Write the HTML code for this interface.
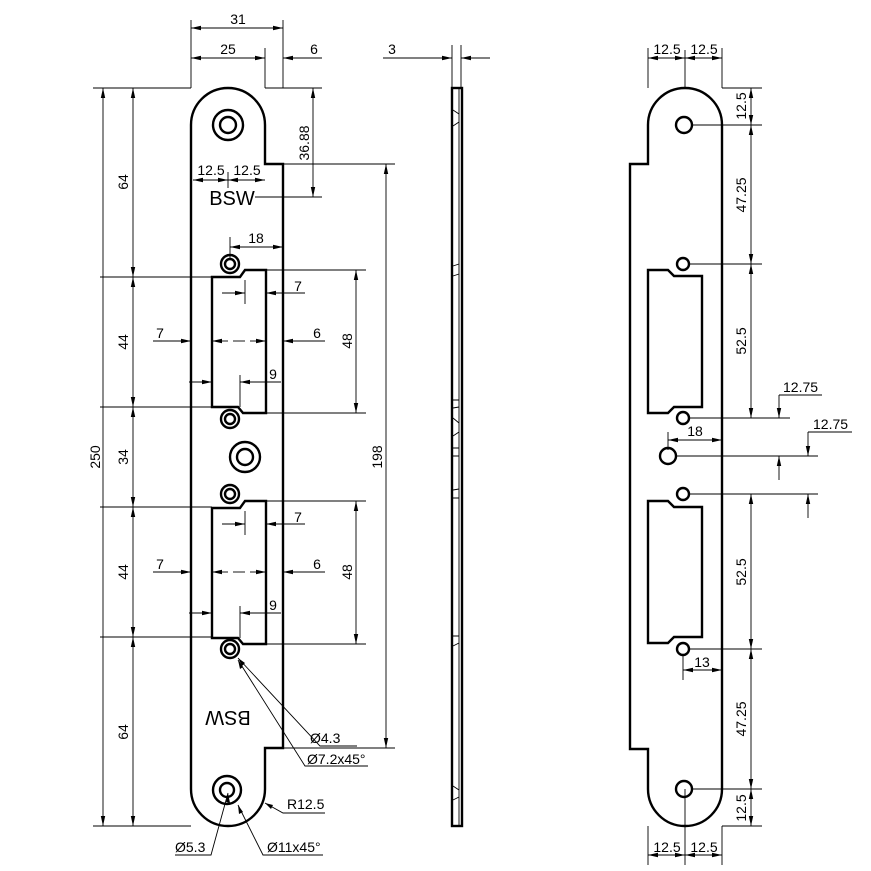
<!DOCTYPE html>
<html><head><meta charset="utf-8"><style>
html,body{margin:0;padding:0;background:#fff}
svg{display:block}
text{font-family:"Liberation Sans",sans-serif;font-size:14px;fill:#000}
.o{fill:none;stroke:#000;stroke-width:2.4}
.d{fill:none;stroke:#000;stroke-width:0.9}
.da{fill:none;stroke:#000;stroke-width:0.9;marker-end:url(#a)}
.db{fill:none;stroke:#000;stroke-width:0.9;marker-start:url(#a);marker-end:url(#a)}
</style></head><body>
<svg width="871" height="871" viewBox="0 0 871 871" xmlns="http://www.w3.org/2000/svg">
<defs><marker id="a" markerWidth="10" markerHeight="6" refX="10" refY="3" orient="auto-start-reverse" markerUnits="userSpaceOnUse"><path d="M0,0.8 L10,3 L0,5.2 z" fill="#000"/></marker></defs>

<!-- LEFT VIEW -->
<path class="o" d="M191,789 L191,125 A37,37 0 0 1 265,125 L265,164 L283,164 L283,748 L265,748 L265,789 A37,37 0 0 1 191,789 Z"/>
<circle class="o" cx="228" cy="125" r="15"/><circle class="o" cx="228" cy="125" r="8"/>
<circle class="o" cx="227" cy="790" r="14"/><circle class="o" cx="227" cy="790" r="7"/>
<circle class="o" cx="245" cy="457" r="15"/><circle class="o" cx="245" cy="457" r="8"/>
<circle class="o" cx="230" cy="264" r="9"/><circle class="o" cx="230" cy="264" r="5"/>
<circle class="o" cx="230" cy="419" r="9"/><circle class="o" cx="230" cy="419" r="5"/>
<circle class="o" cx="230" cy="494" r="9"/><circle class="o" cx="230" cy="494" r="5"/>
<circle class="o" cx="230" cy="649" r="9"/><circle class="o" cx="230" cy="649" r="5"/>
<path class="o" d="M212,277 L240,277 L245,270 L266,270 L266,413 L243,413 L238,407 L212,407 Z"/>
<path class="o" d="M212,508 L240,508 L245,501 L266,501 L266,644 L243,644 L238,638 L212,638 Z"/>
<text x="232" y="205" text-anchor="middle" style="font-size:20px">BSW</text>
<text x="228" y="711" text-anchor="middle" style="font-size:20px" transform="rotate(180 228 711)">BSW</text>

<!-- top dims -->
<path class="d" d="M191,20 V88 M283,20 V88 M265,48 V88 M93,88 H191 M265,88 H322"/>
<path class="db" d="M191,28 H283"/><text x="238" y="24" text-anchor="middle">31</text>
<path class="db" d="M191,58 H265"/><text x="228" y="54" text-anchor="middle">25</text>
<path class="da" d="M322,58 H283"/><text x="314" y="54" text-anchor="middle">6</text>
<path class="db" d="M193,180 H228"/><path class="db" d="M228,180 H265"/><path class="d" d="M228,172 V188"/>
<text x="211" y="175" text-anchor="middle">12.5</text><text x="247" y="175" text-anchor="middle">12.5</text>
<!-- left chain -->
<path class="d" d="M100,277 H212 M100,407 H212 M100,507 H212 M100,637 H212 M93,826 H191"/>
<path class="db" d="M103,88 V826"/><text transform="translate(100,457) rotate(-90)" text-anchor="middle">250</text>
<path class="db" d="M133,88 V277"/><path class="db" d="M133,277 V407"/><path class="db" d="M133,407 V507"/><path class="db" d="M133,507 V637"/><path class="db" d="M133,637 V826"/>
<text transform="translate(128,182) rotate(-90)" text-anchor="middle">64</text>
<text transform="translate(128,342) rotate(-90)" text-anchor="middle">44</text>
<text transform="translate(128,457) rotate(-90)" text-anchor="middle">34</text>
<text transform="translate(128,572) rotate(-90)" text-anchor="middle">44</text>
<text transform="translate(128,732) rotate(-90)" text-anchor="middle">64</text>
<!-- right dims left view -->
<path class="d" d="M255,197 H322 M283,164 H395 M283,748 H395 M266,270 H366 M266,413 H366 M266,501 H366 M266,644 H366"/>
<path class="db" d="M313,88 V197"/><text transform="translate(309,143) rotate(-90)" text-anchor="middle">36.88</text>
<path class="db" d="M386,164 V748"/><text transform="translate(382,457) rotate(-90)" text-anchor="middle">198</text>
<path class="db" d="M356,270 V413"/><text transform="translate(352,341) rotate(-90)" text-anchor="middle">48</text>
<path class="db" d="M356,501 V644"/><text transform="translate(352,572) rotate(-90)" text-anchor="middle">48</text>
<path class="d" d="M230,237 V258"/><path class="db" d="M230,247 H283"/><text x="256" y="243" text-anchor="middle">18</text>
<g id="sd">
<path class="d" d="M245,280 V304"/>
<path class="da" d="M222,293 H245"/><path class="da" d="M305,293 H266"/><text x="298" y="291" text-anchor="middle">7</text>
<path class="da" d="M153,341 H191"/><text x="160" y="338" text-anchor="middle">7</text>
<path class="da" d="M325,341 H283"/><text x="317" y="338" text-anchor="middle">6</text>
<path class="da" d="M228,341 H212"/><path class="da" d="M250,341 H266"/><path class="d" d="M233,341 H245"/>
<path class="da" d="M189,382 H212"/><path class="da" d="M281,382 H240"/><path class="d" d="M240,375 V407"/><text x="273" y="379" text-anchor="middle">9</text>
</g>
<use href="#sd" y="231"/>
<path class="d" d="M238,658 L320,746 H357 M238,660 L305,766 H368 M265,803 L283,813 H325 M228,793 L211,855 H175 M238,805 L263,855 H323"/>
<path d="M238,658 l4,8 l3,-3z M238,660 l2,9 l3,-2z M265,803 l8,2 l-2,4z M228,793 l-2,9 l4,1z M238,805 l1,9 l4,-2z" fill="#000"/>
<text x="310" y="743">Ø4.3</text><text x="307" y="764">Ø7.2x45°</text>
<text x="287" y="809">R12.5</text><text x="175" y="852">Ø5.3</text><text x="267" y="852">Ø11x45°</text>

<!-- SIDE VIEW -->
<rect class="o" x="452" y="88" width="10" height="738"/>
<path class="d" d="M459,88 V826"/>
<path class="d" d="M453,110 l6,4 M453,126 l6,-4 M453,266 l6,-2 M453,276 l6,-2 M453,400 l6,0 M453,408 l6,-1 M453,418 l6,5 M453,436 l6,-4 M453,448 l6,0 M453,456 l6,0 M453,490 l6,-1 M453,498 l6,0 M453,636 l6,0 M453,646 l6,-3 M453,786 l6,4 M453,800 l6,-3"/>
<path class="d" d="M452,45 V88 M461,45 V88"/>
<path class="da" d="M383,58 H452"/><path class="da" d="M490,58 H461"/><text x="392" y="54" text-anchor="middle">3</text>

<!-- RIGHT VIEW -->
<path class="o" d="M648,164 L648,125 A37,37 0 0 1 722,125 L722,789 A37,37 0 0 1 648,789 L648,749 L630,749 L630,164 Z"/>
<circle class="o" cx="684" cy="125" r="8"/><circle class="o" cx="684" cy="789" r="8"/>
<circle class="o" cx="683" cy="264" r="6"/><circle class="o" cx="683" cy="418" r="6"/>
<circle class="o" cx="668" cy="456" r="8"/><circle class="o" cx="683" cy="494" r="6"/><circle class="o" cx="683" cy="649" r="6"/>
<path class="o" d="M648,270 L668,270 L674,276 L702,276 L702,407 L674,407 L668,413 L648,413 Z"/>
<path class="o" d="M648,501 L668,501 L674,507 L702,507 L702,637 L674,637 L668,643 L648,643 Z"/>
<path class="d" d="M692,125 H762 M689,264 H762 M689,418 H790 M676,456 H818 M689,494 H818 M689,649 H762 M692,789 H762 M722,88 H762 M722,826 H762"/>
<path class="d" d="M648,48 V88 M722,48 V88 M685,50 V88 M648,826 V865 M722,826 V865 M685,789 V865"/>
<path class="db" d="M648,58 H685"/><path class="db" d="M685,58 H722"/>
<text x="667" y="54" text-anchor="middle">12.5</text><text x="704" y="54" text-anchor="middle">12.5</text>
<path class="db" d="M648,855 H685"/><path class="db" d="M685,855 H722"/>
<text x="667" y="852" text-anchor="middle">12.5</text><text x="704" y="852" text-anchor="middle">12.5</text>
<path class="db" d="M751,88 V125"/><path class="db" d="M751,125 V264"/><path class="db" d="M751,264 V418"/>
<path class="db" d="M751,494 V649"/><path class="db" d="M751,649 V789"/><path class="db" d="M751,789 V826"/>
<text transform="translate(746,106) rotate(-90)" text-anchor="middle">12.5</text>
<text transform="translate(746,195) rotate(-90)" text-anchor="middle">47.25</text>
<text transform="translate(746,341) rotate(-90)" text-anchor="middle">52.5</text>
<text transform="translate(746,572) rotate(-90)" text-anchor="middle">52.5</text>
<text transform="translate(746,719) rotate(-90)" text-anchor="middle">47.25</text>
<text transform="translate(746,808) rotate(-90)" text-anchor="middle">12.5</text>
<path class="d" d="M779,395 H822"/><path class="da" d="M779,395 V418"/><path class="da" d="M779,480 V456"/>
<text x="783" y="392">12.75</text>
<path class="d" d="M808,432 H852"/><path class="da" d="M808,432 V456"/><path class="da" d="M808,518 V494"/>
<text x="813" y="429">12.75</text>
<path class="d" d="M668,432 V450"/><path class="db" d="M668,440 H722"/><text x="695" y="436" text-anchor="middle">18</text>
<path class="d" d="M683,655 V680"/><path class="db" d="M683,670 H722"/><text x="702" y="667" text-anchor="middle">13</text>
</svg>
</body></html>
